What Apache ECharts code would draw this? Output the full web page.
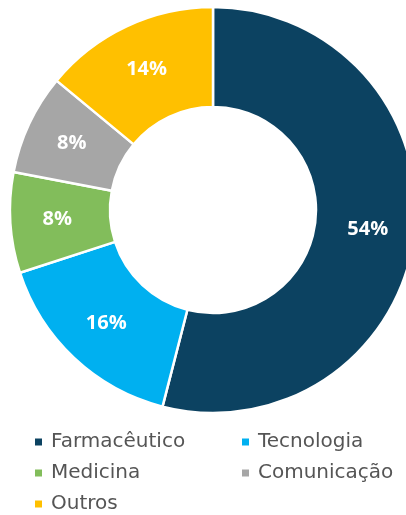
<!DOCTYPE html>
<html>
<head>
<meta charset="utf-8">
<script src="https://cdn.jsdelivr.net/npm/echarts@6/dist/echarts.min.js"></script>
<style>
  html, body { margin: 0; padding: 0; background: #fff; }
  #chart { width: 406px; height: 515px; }
</style>
</head>
<body>
<div id="chart"></div>
<script>
  // setores e percentuais
  var sectors = ['Farmacêutico', 'Tecnologia', 'Medicina', 'Comunicação', 'Outros'];
  var shares = [54, 16, 8, 8, 14];
  var colors = ['#0c4261', '#00b0f0', '#82bd5b', '#a6a6a6', '#ffc000'];

  var leftCol = ['Farmacêutico', 'Medicina', 'Outros'];
  var rightCol = ['Tecnologia', 'Comunicação'];

  var chart = echarts.init(document.getElementById('chart'));

  var legendBase = {
    orient: 'vertical',
    top: 432,
    padding: 0,
    icon: 'rect',
    itemWidth: 9,
    itemHeight: 9,
    itemGap: 11,
    textStyle: { color: '#555', fontSize: 20, lineHeight: 20, fontFamily: 'DejaVu Sans', padding: [0, 0, 0, 3] }
  };

  chart.setOption({
    color: colors,
    legend: [
      Object.assign({}, legendBase, { left: 33, data: leftCol }),
      Object.assign({}, legendBase, { left: 240, data: rightCol })
    ],
    series: [{
      type: 'pie',
      center: [213, 210],
      radius: [103, 203],
      startAngle: 90,
      clockwise: true,
      avoidLabelOverlap: false,
      itemStyle: { borderColor: '#fff', borderWidth: 2.5 },
      label: {
        show: true,
        position: 'inside',
        formatter: '{c}%',
        color: '#fff',
        fontSize: 20,
        fontWeight: 'bold',
        fontFamily: 'Open Sans'
      },
      labelLine: { show: false },
      emphasis: { disabled: true },
      data: sectors.map(function (name, i) {
        return { name: name, value: shares[i] };
      })
    }]
  });
</script>
</body>
</html>
